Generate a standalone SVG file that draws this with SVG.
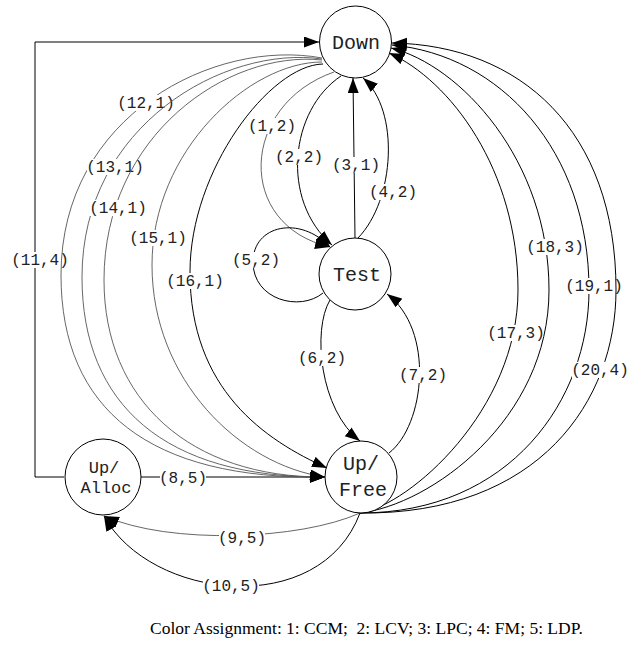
<svg xmlns="http://www.w3.org/2000/svg" width="631" height="653" viewBox="0 0 631 653">
<defs>
<marker id="arr" markerUnits="userSpaceOnUse" markerWidth="16" markerHeight="12" refX="15" refY="5.5" orient="auto">
<path d="M0,0 L15,5.5 L0,11 z" fill="#000"/>
</marker>
<style>
.node circle{fill:#fff;stroke:#000;stroke-width:1}
.node text{font-family:"Liberation Mono","Courier New",monospace;font-size:20px;text-anchor:middle;fill:#222}
.e{fill:none;stroke:#000;stroke-width:1;marker-end:url(#arr)}
.e.lt{stroke:#555;stroke-width:0.9}
.lb rect{fill:#fff}
.lb text{font-family:"Liberation Mono","Courier New",monospace;font-size:16px;text-anchor:middle;fill:#222}
.cap{font-family:"Liberation Serif","Times New Roman",serif;font-size:17.5px;fill:#000}
</style>
</defs>
<rect width="631" height="653" fill="#fff"/>
<g id="connectors">
<g id="e1"><path class="e lt" d="M334,72 C240,105 235,225 330,247"/>
<g class="lb"><rect x="249" y="118" width="46" height="16"/><text x="272" y="131">(1,2)</text></g></g>
<g id="e2"><path class="e" d="M341,76 C290,110 280,200 332,245"/>
<g class="lb"><rect x="276" y="149" width="46" height="16"/><text x="299" y="162">(2,2)</text></g></g>
<g id="e3"><path class="e" d="M355,238 L353,78"/>
<g class="lb"><rect x="333" y="157" width="46" height="16"/><text x="356" y="170">(3,1)</text></g></g>
<g id="e4"><path class="e" d="M358,238 C395,200 400,110 363,78"/>
<g class="lb"><rect x="370" y="184" width="46" height="16"/><text x="393" y="197">(4,2)</text></g></g>
<g id="e5"><path class="e" d="M323,293 C300,312 253,300 253,262 C253,225 300,215 330,247"/>
<g class="lb"><rect x="233" y="252" width="46" height="16"/><text x="256" y="265">(5,2)</text></g></g>
<g id="e6"><path class="e" d="M330,300 C312,330 320,410 360,441"/>
<g class="lb"><rect x="299" y="350" width="46" height="16"/><text x="322" y="363">(6,2)</text></g></g>
<g id="e7"><path class="e" d="M389,453 C425,425 435,330 387,294"/>
<g class="lb"><rect x="400" y="367" width="46" height="16"/><text x="423" y="380">(7,2)</text></g></g>
<g id="e8"><path class="e" d="M141,477 L325,477"/>
<g class="lb"><rect x="160" y="470" width="46" height="16"/><text x="183" y="483">(8,5)</text></g></g>
<g id="e9"><path class="e lt" d="M360,513 C300,540 170,545 104,516"/>
<g class="lb"><rect x="219" y="530" width="46" height="16"/><text x="242" y="543">(9,5)</text></g></g>
<g id="e10"><path class="e" d="M360,513 C320,620 150,600 104,516"/>
<g class="lb"><rect x="203" y="578" width="56" height="16"/><text x="231" y="591">(10,5)</text></g></g>
<g id="e11"><path class="e" d="M64,477 L35,477 L35,42 L319,42"/>
<g class="lb"><rect x="12" y="252" width="56" height="16"/><text x="40" y="265">(11,4)</text></g></g>
<g id="e12"><path class="e lt" d="M322,58 C215,38 61,115 61,275 C61,410 150,480 325,477"/>
<g class="lb"><rect x="118" y="95" width="56" height="16"/><text x="146" y="108">(12,1)</text></g></g>
<g id="e13"><path class="e lt" d="M322,59 C225,45 82,125 82,277 C82,405 165,478 325,477"/>
<g class="lb"><rect x="87" y="159" width="56" height="16"/><text x="115" y="172">(13,1)</text></g></g>
<g id="e14"><path class="e lt" d="M322,60 C228,50 104,135 104,280 C104,400 190,478 325,477"/>
<g class="lb"><rect x="90" y="200" width="56" height="16"/><text x="118" y="213">(14,1)</text></g></g>
<g id="e15"><path class="e lt" d="M322,62 C250,62 152,150 152,265 C152,380 240,465 325,477"/>
<g class="lb"><rect x="130" y="230" width="56" height="16"/><text x="158" y="243">(15,1)</text></g></g>
<g id="e16"><path class="e" d="M323,64 C270,65 190,170 190,272 C190,390 265,440 327,468"/>
<g class="lb"><rect x="167" y="273" width="56" height="16"/><text x="195" y="286">(16,1)</text></g></g>
<g id="e17"><path class="e" d="M360,513 C410,505 518,410 518,290 C518,170 450,80 389,53"/>
<g class="lb"><rect x="488" y="325" width="56" height="16"/><text x="516" y="338">(17,3)</text></g></g>
<g id="e18"><path class="e" d="M360,513 C430,505 549,420 549,290 C549,160 460,65 391,48"/>
<g class="lb"><rect x="527" y="239" width="56" height="16"/><text x="555" y="252">(18,3)</text></g></g>
<g id="e19"><path class="e" d="M360,513 C510,513 589,400 589,290 C589,150 500,55 392,45"/>
<g class="lb"><rect x="566" y="278" width="56" height="16"/><text x="594" y="291">(19,1)</text></g></g>
<g id="e20"><path class="e" d="M360,513 C540,515 616,400 616,290 C616,130 520,45 392,43"/>
<g class="lb"><rect x="572" y="362" width="56" height="16"/><text x="600" y="375">(20,4)</text></g></g>
</g>
<g id="node-down" class="node"><circle cx="355.5" cy="42" r="36"/><text x="356" y="49">Down</text></g>
<g id="node-test" class="node"><circle cx="355" cy="274" r="36"/><text x="357" y="281">Test</text></g>
<g id="node-upfree" class="node"><circle cx="361" cy="477" r="36"/><text x="361" y="470">Up/</text><text x="363" y="496">Free</text></g>
<g id="node-upalloc" class="node"><circle cx="103" cy="477" r="38"/><text x="104" y="473" style="font-size:17px">Up/</text><text x="106" y="493" style="font-size:17px">Alloc</text></g>
<text class="cap" x="150" y="634" xml:space="preserve">Color Assignment: 1: CCM;  2: LCV; 3: LPC; 4: FM; 5: LDP.</text>
</svg>
